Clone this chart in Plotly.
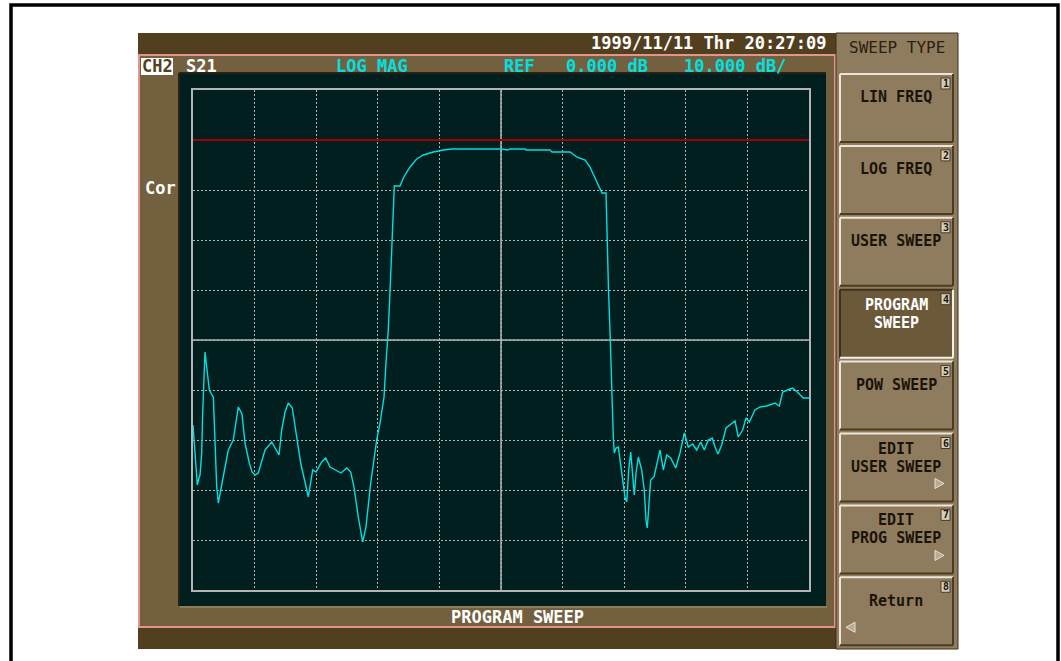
import plotly.graph_objects as go

########################################################################################
## DATA  (S21 trace, x in grid divisions, y in dB)
########################################################################################
sweep_div = [
    0.000, 0.024, 0.049, 0.070, 0.097, 0.114, 0.141, 0.157, 0.195, 0.211,
    0.222, 0.265, 0.308, 0.330, 0.385, 0.411, 0.450, 0.492, 0.573, 0.654,
    0.698, 0.735, 0.795, 0.844, 0.914, 0.958, 1.006, 1.060, 1.169, 1.278,
    1.396, 1.440, 1.494, 1.547, 1.612, 1.683, 1.748, 1.818, 1.872, 1.943,
    1.997, 2.089, 2.154, 2.224, 2.305, 2.403, 2.495, 2.560, 2.614, 2.683,
    2.755, 2.808, 2.885, 2.982, 3.036, 3.101, 3.133, 3.170, 3.206, 3.231,
    3.252, 3.268, 3.360, 3.414, 3.523, 3.631, 3.739, 3.901, 4.063, 4.200,
    4.578, 5.000, 5.114, 5.146, 5.390, 5.406, 5.795, 5.828, 6.120, 6.229,
    6.364, 6.445, 6.526, 6.607, 6.640, 6.705, 6.721, 6.745, 6.769, 6.786,
    6.802, 6.823, 6.839, 6.867, 6.904, 6.932, 6.976, 7.013, 7.041, 7.073,
    7.106, 7.138, 7.164, 7.192, 7.229, 7.284, 7.326, 7.354, 7.375, 7.403,
    7.430, 7.484, 7.528, 7.581, 7.635, 7.690, 7.755, 7.836, 7.906, 7.976,
    8.041, 8.112, 8.177, 8.242, 8.300, 8.365, 8.430, 8.474, 8.523, 8.583,
    8.653, 8.771, 8.799, 8.852, 8.924, 8.977, 9.031, 9.123, 9.205, 9.313,
    9.448, 9.518, 9.573, 9.692, 9.735, 9.810, 9.907, 10.000,
]
s21_db = [
    -57.0, -61.0, -66.0, -69.0, -67.6, -67.0, -62.6, -54.6, -42.4, -44.4,
    -46.0, -50.0, -51.0, -51.4, -69.4, -72.6, -70.0, -67.4, -62.0, -60.0,
    -56.0, -53.4, -54.8, -60.6, -64.6, -66.4, -67.0, -66.6, -62.0, -60.4,
    -63.0, -58.0, -54.4, -52.6, -53.6, -59.4, -64.6, -68.4, -71.4, -66.0,
    -66.4, -64.4, -63.6, -65.4, -66.0, -66.6, -65.6, -66.4, -69.4, -75.4,
    -80.4, -77.4, -68.6, -60.0, -56.6, -51.4, -44.6, -38.0, -28.0, -20.0,
    -14.0, -9.2, -9.2, -7.6, -5.4, -3.8, -3.0, -2.4, -2.0, -1.8,
    -1.8, -1.8, -2.0, -1.8, -1.8, -2.0, -2.0, -2.4, -2.4, -3.4,
    -4.0, -5.4, -7.6, -10.0, -10.6, -10.6, -20.0, -30.0, -38.0, -45.4,
    -52.6, -59.4, -62.6, -61.6, -61.4, -64.0, -67.4, -71.4, -72.4, -66.0,
    -62.4, -66.6, -71.0, -66.6, -63.4, -66.0, -70.0, -76.0, -77.6, -72.6,
    -68.0, -67.4, -65.0, -62.0, -66.0, -63.0, -63.6, -65.6, -62.6, -58.6,
    -61.4, -60.8, -62.0, -60.4, -62.0, -60.0, -59.6, -61.4, -62.8, -61.0,
    -57.6, -56.6, -56.2, -59.4, -58.0, -55.6, -56.4, -54.0, -53.4, -53.2,
    -52.6, -53.2, -50.4, -49.8, -49.6, -50.4, -51.6, -51.6,
]

ref_level_db = 0.0
scale_db_per_div = 10.0
n_divisions = 10

header_labels = ["S21", "LOG MAG", "REF", "0.000 dB", "10.000 dB/"]
timestamp = "1999/11/11 Thr 20:27:09"
softkey_title = "SWEEP TYPE"
softkeys = [
    ["LIN FREQ"],
    ["LOG FREQ"],
    ["USER SWEEP"],
    ["PROGRAM", "SWEEP"],
    ["POW SWEEP"],
    ["EDIT", "USER SWEEP"],
    ["EDIT", "PROG SWEEP"],
    ["Return"],
]
active_key = 3

########################################################################################
## SCREEN GEOMETRY (pixels) + colours
########################################################################################
W, H = 1061, 661
MONO = "DejaVu Sans Mono"

BAR_DARK = "#523f20"
PANEL = "#72603f"
SCREEN = "#011f1f"
KEYPANEL = "#8f7c5e"
KEY_ACTIVE = "#6b593a"
PINK = "#e3958d"
GRID = "#b4b4b4"
CYAN = "#00e0e0"
REF_RED = "#a00000"


def px(x):
    return x / W


def py(y):
    return 1 - y / H


def rect(x0, y0, x1, y1, fill=None, line=None, lw=0):
    return dict(type="rect", xref="paper", yref="paper", layer="below",
                x0=px(x0), x1=px(x1), y0=py(y1), y1=py(y0),
                fillcolor=fill or "rgba(0,0,0,0)",
                line=dict(color=line or "rgba(0,0,0,0)", width=lw))


def hline(x0, x1, y, color, lw=1, layer="below"):
    return dict(type="line", xref="paper", yref="paper", layer=layer,
                x0=px(x0), x1=px(x1), y0=py(y), y1=py(y), line=dict(color=color, width=lw))


def vline(x, y0, y1, color, lw=1, layer="below"):
    return dict(type="line", xref="paper", yref="paper", layer=layer,
                x0=px(x), x1=px(x), y0=py(y0), y1=py(y1), line=dict(color=color, width=lw))


def text(x, y, s, color, size=17, anchor="left", bold=True, family=MONO):
    return dict(xref="paper", yref="paper", x=px(x), y=py(y), text=s, showarrow=False,
                xanchor=anchor, yanchor="middle",
                font=dict(family=family, size=size, color=color, weight="bold" if bold else "normal"))


shapes = []
annotations = []

# page frame
shapes.append(rect(11, 5, 1058, 680, line="#000000", lw=3.5))

# instrument window
shapes.append(rect(138, 33, 836, 55, fill=BAR_DARK))
shapes.append(rect(139, 55, 835, 627, fill=PANEL, line=PINK, lw=2))
shapes.append(rect(138, 628, 836, 649, fill=BAR_DARK))
shapes.append(rect(180, 74, 826, 606, fill=SCREEN))
shapes.append(vline(179, 73, 606, "#2a2212", 2))
shapes.append(hline(179, 826, 73, "#2a2212", 2))
shapes.append(hline(180, 827, 607, "#a89878", 1))

# header line
shapes.append(rect(141, 58, 173, 75, fill="#ffffff"))
annotations.append(text(157, 66.5, "CH2", BAR_DARK, anchor="center"))
annotations.append(text(184, 66.5, header_labels[0], "#ffffff"))
for lab, x in zip(header_labels[1:], [334, 502, 564, 682]):
    annotations.append(text(x, 66.5, lab, CYAN))
annotations.append(text(828, 43, timestamp, "#ffffff", anchor="right"))
annotations.append(text(143, 188, "Cor", "#ffffff"))
annotations.append(text(517, 617, "PROGRAM SWEEP", "#ffffff", anchor="center"))

# softkey panel
shapes.append(rect(836, 33, 958, 649, fill=KEYPANEL, line="#3e301a", lw=1))
annotations.append(text(897, 47, softkey_title, "#2a2010", size=16, anchor="center", bold=False))

key_top0, key_step, key_h = 74, 71.9, 68
for i, lines in enumerate(softkeys):
    top = key_top0 + i * key_step
    bot = top + key_h
    active = i == active_key
    shapes.append(rect(840, top, 953, bot, fill=KEY_ACTIVE if active else KEYPANEL))
    light, dark = ("#3e301a", "#f4f0e8") if active else ("#ece6da", "#4a3c22")
    shapes.append(hline(840, 953, top, light, 2))
    shapes.append(vline(840, top, bot, light, 2))
    shapes.append(hline(840, 953, bot, dark, 2))
    shapes.append(vline(953, top, bot, dark, 2))
    # number tab
    shapes.append(rect(941, top + 4, 950, top + 15, fill="#d4ccbc", line="#4a3c22", lw=1))
    annotations.append(text(945.5, top + 9.5, str(i + 1), "#1a1408", size=10, anchor="center"))
    col = "#ffffff" if active else "#1a1408"
    if len(lines) == 1:
        ys = [top + 23] if i < 7 else [top + 24]
    else:
        ys = [top + 15, top + 33]
    for s, y in zip(lines, ys):
        annotations.append(text(896, y, s, col, size=15, anchor="center"))

# small arrows on EDIT keys and Return key
for i in (5, 6):
    top = key_top0 + i * key_step
    x0, y0 = 935, top + 50
    shapes.append(dict(type="path", xref="paper", yref="paper", layer="above",
                       path=f"M {px(x0)} {py(y0 - 5)} L {px(x0 + 9)} {py(y0)} L {px(x0)} {py(y0 + 5)} Z",
                       fillcolor="#b8ab92", line=dict(color="#e8e0d0", width=1)))
top = key_top0 + 7 * key_step
shapes.append(dict(type="path", xref="paper", yref="paper", layer="above",
                   path=f"M {px(855)} {py(top + 45)} L {px(846)} {py(top + 50)} L {px(855)} {py(top + 55)} Z",
                   fillcolor="#b8ab92", line=dict(color="#e8e0d0", width=1)))

########################################################################################
## GRATICULE + TRACE
########################################################################################
y_top = ref_level_db + scale_db_per_div
y_bot = y_top - n_divisions * scale_db_per_div
y_mid = (y_top + y_bot) / 2

shapes.append(dict(type="line", xref="x", yref="y", layer="between",
                   x0=n_divisions / 2, x1=n_divisions / 2, y0=y_bot, y1=y_top,
                   line=dict(color=GRID, width=1.5)))
shapes.append(dict(type="line", xref="x", yref="y", layer="between",
                   x0=0, x1=n_divisions, y0=y_mid, y1=y_mid,
                   line=dict(color=GRID, width=1.5)))
shapes.append(dict(type="line", xref="x", yref="y", layer="between",
                   x0=0, x1=n_divisions, y0=ref_level_db, y1=ref_level_db,
                   line=dict(color=REF_RED, width=2)))

fig = go.Figure()
fig.add_trace(go.Scatter(x=sweep_div, y=s21_db, mode="lines",
                         line=dict(color=CYAN, width=1.4), hoverinfo="skip"))
# reference level pointer
fig.add_trace(go.Scatter(x=[n_divisions * 1.006], y=[ref_level_db], mode="markers",
                         marker=dict(symbol="triangle-left", size=8, color=CYAN),
                         cliponaxis=False, hoverinfo="skip"))

axis_common = dict(showgrid=True, gridcolor=GRID, griddash="2px,2px", gridwidth=1.3,
                   zeroline=False, showticklabels=False, ticks="",
                   showline=True, linecolor=GRID, linewidth=1.5, mirror=True, fixedrange=True)

fig.update_layout(
    width=W, height=H, autosize=False,
    margin=dict(l=0, r=0, t=0, b=0),
    paper_bgcolor="#ffffff",
    plot_bgcolor="rgba(0,0,0,0)",
    showlegend=False,
    xaxis=dict(domain=[px(193), px(809)], range=[0, n_divisions], dtick=1, **axis_common),
    yaxis=dict(domain=[py(590), py(90)], range=[y_bot, y_top], dtick=scale_db_per_div, **axis_common),
    shapes=shapes,
    annotations=annotations,
)

# page has a default 8px body margin; drop it so the figure sits at the window origin
fig.write_html("out.html", config={"displayModeBar": False},
               post_script="document.body.style.margin='0';document.body.style.overflow='hidden';")
